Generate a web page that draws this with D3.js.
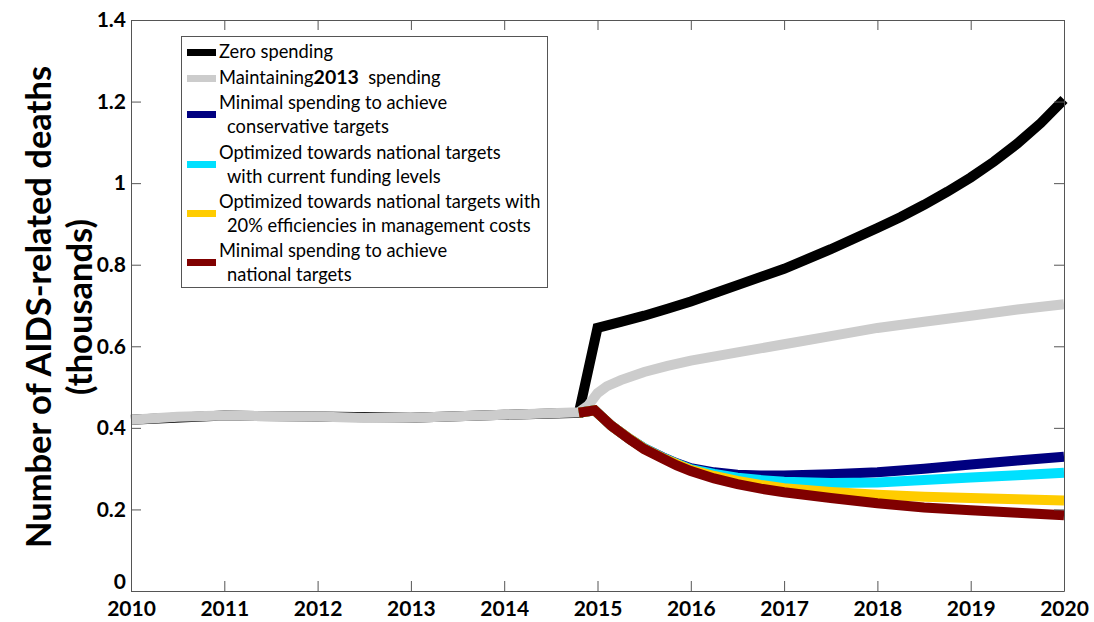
<!DOCTYPE html>
<html>
<head>
<meta charset="utf-8">
<script src="https://cdn.jsdelivr.net/npm/d3@7"></script>
<style>
  body { margin: 0; background: #fff; }
  text { font-family: Lato, "Open Sans", sans-serif; }
</style>
</head>
<body>
<div id="chart"></div>
<script>
var width = 1094, height = 622;

// data (thousands of deaths)
var zeroYears   = [2010, 2011, 2012, 2013, 2014, 2014.8, 2015, 2015.25, 2015.5, 2015.75, 2016, 2016.5, 2017, 2017.5, 2018, 2018.25, 2018.5, 2018.75, 2019, 2019.25, 2019.5, 2019.75, 2020];
var zeroVals    = [0.42, 0.43, 0.428, 0.425, 0.432, 0.437, 0.645, 0.66, 0.675, 0.692, 0.71, 0.75, 0.79, 0.838, 0.89, 0.917, 0.947, 0.979, 1.014, 1.053, 1.097, 1.147, 1.205];

var maintYears  = [2010, 2010.5, 2011, 2012, 2012.5, 2013, 2014, 2014.8, 2014.9, 2015, 2015.1, 2015.25, 2015.5, 2015.75, 2016, 2016.5, 2017, 2017.5, 2018, 2018.5, 2019, 2019.5, 2020];
var maintVals   = [0.42, 0.427, 0.43, 0.428, 0.424, 0.425, 0.432, 0.438, 0.455, 0.485, 0.502, 0.517, 0.537, 0.552, 0.565, 0.585, 0.605, 0.625, 0.645, 0.66, 0.675, 0.69, 0.703];

var lowYears    = [2014.8, 2014.97, 2015.15, 2015.35, 2015.5, 2015.7, 2015.85, 2016, 2016.25, 2016.5, 2016.75, 2017, 2017.5, 2018, 2018.5, 2019, 2019.5, 2020];
var conservVals = [0.437, 0.443, 0.405, 0.372, 0.35, 0.328, 0.313, 0.301, 0.291, 0.285, 0.283, 0.283, 0.286, 0.291, 0.30, 0.31, 0.32, 0.329];
var currentVals = [0.437, 0.443, 0.405, 0.372, 0.35, 0.327, 0.312, 0.299, 0.287, 0.278, 0.272, 0.268, 0.265, 0.266, 0.272, 0.278, 0.284, 0.29];
var efficVals   = [0.437, 0.443, 0.405, 0.372, 0.349, 0.326, 0.311, 0.297, 0.282, 0.27, 0.26, 0.252, 0.243, 0.236, 0.231, 0.228, 0.225, 0.222];
var nationalVals= [0.437, 0.443, 0.405, 0.371, 0.348, 0.325, 0.308, 0.294, 0.276, 0.262, 0.251, 0.242, 0.228, 0.215, 0.205, 0.198, 0.192, 0.186];

var xTicks = [2010, 2011, 2012, 2013, 2014, 2015, 2016, 2017, 2018, 2019, 2020];
var yTicks = [0, 0.2, 0.4, 0.6, 0.8, 1, 1.2, 1.4];

var series = [
  {name: ["Zero spending"], color: "#000000", years: zeroYears, vals: zeroVals},
  {name: ["Maintaining", "2013", " spending"], color: "#cccccc", years: maintYears, vals: maintVals},
  {name: ["Minimal spending to achieve", "conservative targets"], color: "#000080", years: lowYears, vals: conservVals},
  {name: ["Optimized towards national targets", "with current funding levels"], color: "#00e0ff", years: lowYears, vals: currentVals},
  {name: ["Optimized towards national targets with", "20% efficiencies in management costs"], color: "#ffcc00", years: lowYears, vals: efficVals},
  {name: ["Minimal spending to achieve", "national targets"], color: "#800000", years: lowYears, vals: nationalVals}
];

var mLeft = 131, mRight = 1064, mTop = 20, mBottom = 591;

var x = d3.scaleLinear().domain([2010, 2020]).range([mLeft, mRight]);
var y = d3.scaleLinear().domain([0, 1.4]).range([mBottom, mTop]);

var svg = d3.select("#chart").append("svg")
  .attr("width", width).attr("height", height);

var axisColor = "#555";

// lines
var line = d3.line()
  .x(function(d) { return x(d[0]); })
  .y(function(d) { return y(d[1]); });

svg.selectAll("path.series")
  .data(series)
  .enter()
  .append("path")
  .attr("class", "series")
  .attr("d", function(s) { return line(s.years.map(function(yr, i) { return [yr, s.vals[i]]; })); })
  .attr("fill", "none")
  .attr("stroke", function(s) { return s.color; })
  .attr("stroke-width", 10);

// axes
var xAxis = svg.append("g")
  .attr("transform", "translate(0," + mBottom + ")")
  .call(d3.axisBottom(x).tickValues(xTicks).tickFormat(d3.format("d")).tickSizeInner(-10).tickSizeOuter(0).tickPadding(10));
var yAxis = svg.append("g")
  .attr("transform", "translate(" + mLeft + ",0)")
  .call(d3.axisLeft(y).tickValues(yTicks).tickFormat(function(d) { return d3.format("")(d); }).tickSizeInner(-10).tickSizeOuter(0).tickPadding(5));
var xTop = svg.append("g")
  .attr("transform", "translate(0," + mTop + ")")
  .call(d3.axisTop(x).tickValues(xTicks).tickFormat("").tickSizeInner(-10).tickSizeOuter(0));
var yRight = svg.append("g")
  .attr("transform", "translate(" + mRight + ",0)")
  .call(d3.axisRight(y).tickValues(yTicks).tickFormat("").tickSizeInner(-10).tickSizeOuter(0));

[xAxis, yAxis, xTop, yRight].forEach(function(g) {
  g.selectAll("path,line").attr("stroke", axisColor);
  g.selectAll("text")
    .attr("fill", "#000")
    .style("font-size", "21px")
    .style("font-weight", "bold")
    .style("font-family", "Lato, sans-serif");
});
// the 0 label sits a little higher, clear of the 2010 label
yAxis.selectAll(".tick text").filter(function(d) { return d === 0; }).attr("dy", "-0.12em");

// y axis title
var title = svg.append("text")
  .attr("transform", "translate(51,307) rotate(-90)")
  .attr("text-anchor", "middle")
  .style("font-size", "34.5px")
  .style("font-weight", "bold");
title.append("tspan").attr("x", 0).attr("dy", 0).text("Number of AIDS-related deaths");
title.append("tspan").attr("x", 0).attr("dy", 41).text("(thousands)");

// legend
var legend = svg.append("g");
legend.append("rect")
  .attr("x", 181.5).attr("y", 36.5)
  .attr("width", 366).attr("height", 251)
  .attr("fill", "#fff")
  .attr("stroke", "#555");

var legendRows = [52, 78, 103, 153, 202, 251];
series.forEach(function(s, i) {
  var ly = legendRows[i];
  var swatchY = s.name.length === 2 ? ly + 11 : ly;
  legend.append("rect")
    .attr("x", 187).attr("y", swatchY - 3)
    .attr("width", 29).attr("height", 7)
    .attr("fill", s.color);
  var t = legend.append("text")
    .attr("x", 219).attr("y", ly + 6)
    .style("font-size", "18.3px");
  if (i === 1) {
    t.append("tspan").text(s.name[0]);
    t.append("tspan").style("font-weight", "bold").style("font-size", "19.5px").text(s.name[1]);
    t.append("tspan").text("\u00a0\u00a0spending");
  } else {
    t.text(s.name[0]);
    if (s.name.length === 2) {
      legend.append("text")
        .attr("x", 227).attr("y", ly + 30)
        .style("font-size", "18.3px")
        .text(s.name[1]);
    }
  }
});
</script>
</body>
</html>
